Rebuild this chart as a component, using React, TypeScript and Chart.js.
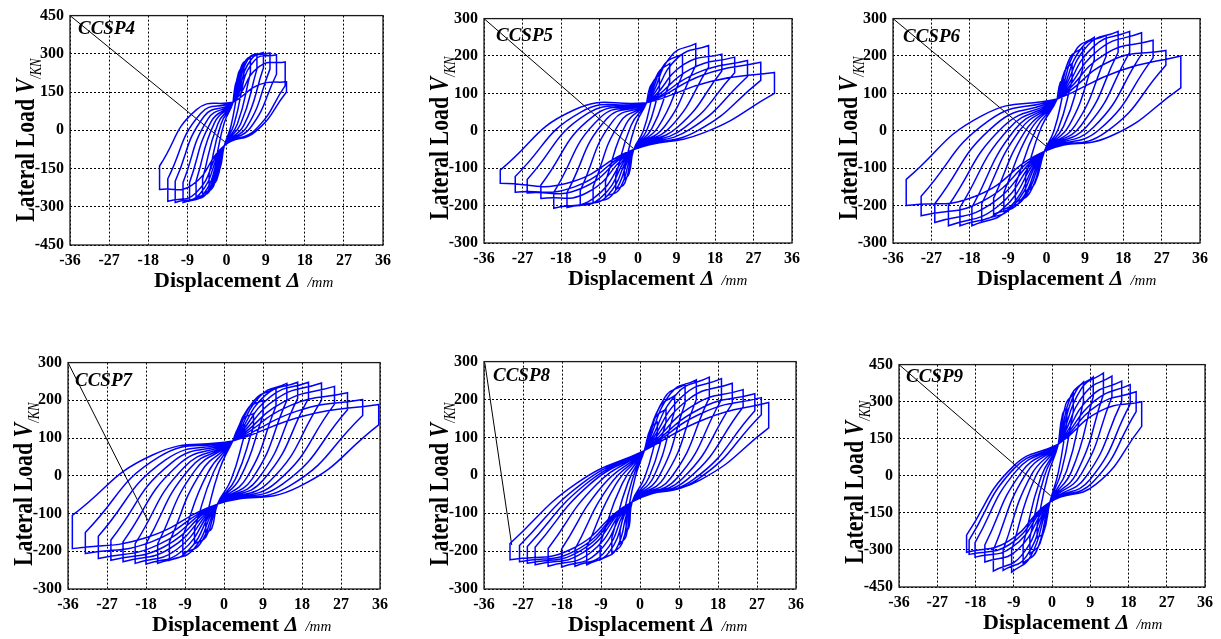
import React, { useEffect, useRef } from "react";
import { Chart, registerables } from "chart.js";
Chart.register(...registerables);

const SERIF = '"Liberation Serif", "Times New Roman", Times, serif';

// ---------- CCSP4 ----------
const CCSP4_pinch = [1.5, 110, -0.5, -60];
const CCSP4_dPos = [2.5, 4, 5.5, 7, 8.5, 10, 11.5, 13.5, 13.8];
const CCSP4_vPos = [200, 255, 285, 300, 305, 303, 296, 268, 190];
const CCSP4_uPos = [150, 200, 225, 240, 245, 240, 220, 175, 150];
const CCSP4_mUpPos = [175, 225, 255, 270, 280, 280, 275, 250, 180];
const CCSP4_mLoPos = [15, 25, 25, 25, 20, 15, 10, 0, -5];
const CCSP4_dNeg = [-2.5, -4, -5.5, -7, -8.5, -10, -11.8, -13.5, -15.4];
const CCSP4_vNeg = [-170, -225, -250, -265, -278, -283, -283, -278, -232];
const CCSP4_uNeg = [-120, -170, -190, -200, -205, -205, -200, -190, -140];
const CCSP4_mLoNeg = [-150, -195, -220, -235, -245, -250, -250, -245, -215];
const CCSP4_mUpNeg = [30, 25, 25, 30, 35, 45, 55, 65, 80];
const CCSP4_leader = [-36, 450, -0.4, -45];

// ---------- CCSP5 ----------
const CCSP5_pinch = [2, 75, -1, -50];
const CCSP5_dPos = [3.5, 5, 7.4, 10.4, 13.5, 16.5, 19.6, 22.6, 25.6, 28.7, 31.9];
const CCSP5_vPos = [130, 150, 180, 205, 233, 228, 205, 197, 188, 183, 156];
const CCSP5_uPos = [100, 110, 130, 150, 175, 170, 160, 155, 145, 135, 100];
const CCSP5_mUpPos = [115, 130, 155, 178, 200, 195, 178, 165, 155, 150, 132];
const CCSP5_mLoPos = [0, 0, 5, 10, 12, 12, 10, 8, 5, 0, -5];
const CCSP5_dNeg = [-3.2, -5.2, -7.6, -10.5, -13.5, -16.6, -19.7, -22.7, -25.9, -28.7, -32.2];
const CCSP5_vNeg = [-130, -157, -176, -194, -200, -205, -207, -181, -166, -164, -140];
const CCSP5_uNeg = [-100, -120, -135, -150, -160, -165, -165, -145, -130, -122, -105];
const CCSP5_mLoNeg = [-115, -140, -155, -168, -175, -180, -180, -165, -155, -150, -140];
const CCSP5_mUpNeg = [15, 15, 18, 22, 28, 32, 35, 40, 45, 50, 55];
const CCSP5_leader = [-36, 300, -1.1, -47];

// ---------- CCSP6 ----------
const CCSP6_pinch = [2.5, 85, -0.5, -55];
const CCSP6_dPos = [4, 6, 8.5, 11.2, 14, 16.8, 19.5, 22.3, 25, 28, 31.5];
const CCSP6_vPos = [135, 180, 222, 250, 255, 266, 266, 262, 242, 215, 200];
const CCSP6_uPos = [105, 135, 165, 190, 200, 210, 210, 205, 195, 175, 115];
const CCSP6_mUpPos = [130, 160, 195, 215, 222, 228, 225, 218, 205, 188, 160];
const CCSP6_mLoPos = [0, 5, 12, 15, 15, 15, 12, 8, 2, -5, -12];
const CCSP6_dNeg = [-4.9, -7.3, -10, -12.4, -15.2, -17.5, -20.3, -23, -26.2, -29.4, -32.9];
const CCSP6_vNeg = [-166, -192, -210, -223, -240, -254, -254, -254, -245, -227, -200];
const CCSP6_uNeg = [-120, -145, -165, -180, -195, -205, -205, -200, -195, -175, -130];
const CCSP6_mLoNeg = [-140, -165, -180, -192, -202, -210, -210, -205, -198, -188, -175];
const CCSP6_mUpNeg = [10, 5, 2, 0, 0, 2, 5, 10, 18, 28, 40];
const CCSP6_leader = [-36, 300, 0, -42];

// ---------- CCSP7 ----------
const CCSP7_pinch = [2, 92, -1.5, -75];
const CCSP7_dPos = [4.8, 6.8, 9, 12, 14.5, 17, 19.5, 22.5, 25.5, 28.5, 32, 35.7];
const CCSP7_vPos = [136, 165, 200, 232, 245, 248, 248, 246, 237, 220, 202, 189];
const CCSP7_uPos = [110, 130, 160, 185, 200, 205, 205, 200, 190, 175, 160, 135];
const CCSP7_mUpPos = [128, 150, 178, 200, 210, 213, 210, 205, 196, 186, 172, 160];
const CCSP7_mLoPos = [-10, -8, -5, -5, -8, -10, -12, -15, -18, -22, -26, -30];
const CCSP7_dNeg = [-4.2, -6.8, -9.5, -12.6, -15.3, -18, -20.5, -23.3, -26.1, -29, -32, -35];
const CCSP7_vNeg = [-150, -180, -206, -224, -232, -234, -232, -228, -224, -219, -206, -193];
const CCSP7_uNeg = [-115, -140, -160, -175, -180, -180, -180, -175, -170, -160, -150, -105];
const CCSP7_mLoNeg = [-140, -162, -180, -195, -200, -200, -196, -192, -188, -183, -175, -165];
const CCSP7_mUpNeg = [15, 10, 8, 10, 15, 18, 22, 28, 35, 42, 50, 55];
const CCSP7_leader = [-36, 300, -17.6, -118];

// ---------- CCSP8 ----------
const CCSP8_pinch = [1, 65, -1.8, -70];
const CCSP8_dPos = [4, 6, 8, 10.4, 13, 16, 18.8, 21.3, 23.8, 26.5, 28, 29.7];
const CCSP8_vPos = [140, 175, 210, 240, 252, 259, 255, 243, 226, 215, 205, 192];
const CCSP8_uPos = [110, 140, 170, 190, 200, 205, 200, 190, 180, 170, 160, 125];
const CCSP8_mUpPos = [125, 152, 180, 205, 215, 215, 210, 200, 185, 175, 165, 150];
const CCSP8_mLoPos = [-5, -5, -5, -5, -6, -7, -8, -9, -10, -11, -12, -12];
const CCSP8_dNeg = [-3.2, -4.6, -6.5, -9.2, -12.3, -15, -18.1, -21.2, -24.2, -26, -27.8, -30];
const CCSP8_vNeg = [-150, -180, -206, -223, -236, -240, -242, -240, -236, -232, -228, -223];
const CCSP8_uNeg = [-120, -145, -165, -180, -190, -195, -195, -193, -190, -188, -185, -180];
const CCSP8_mLoNeg = [-135, -160, -180, -195, -202, -206, -206, -205, -203, -200, -198, -195];
const CCSP8_mUpNeg = [-5, -12, -18, -22, -25, -26, -26, -25, -24, -23, -22, -20];
const CCSP8_leader = [-35.8, 296, -29.6, -184];

// ---------- CCSP9 ----------
const CCSP9_pinch = [1.5, 128, -0.5, -107];
const CCSP9_dPos = [3.5, 5, 7.4, 9.7, 12.1, 14.1, 16.4, 18.4, 19.8, 21.1];
const CCSP9_vPos = [275, 330, 380, 400, 416, 403, 383, 369, 340, 300];
const CCSP9_uPos = [220, 260, 300, 320, 330, 320, 300, 290, 260, 200];
const CCSP9_mUpPos = [250, 290, 325, 342, 350, 335, 318, 302, 285, 262];
const CCSP9_mLoPos = [15, 20, 20, 18, 12, 5, -5, -15, -25, -35];
const CCSP9_dNeg = [-3.5, -5.2, -6.8, -9.5, -11.5, -13.8, -15.8, -18.1, -19.5, -20.1];
const CCSP9_vNeg = [-250, -316, -353, -390, -383, -386, -349, -329, -318, -309];
const CCSP9_uNeg = [-200, -250, -280, -300, -300, -300, -280, -270, -260, -240];
const CCSP9_mLoNeg = [-230, -275, -305, -325, -325, -322, -300, -288, -278, -265];
const CCSP9_mUpNeg = [0, -5, -8, -8, 0, 8, 15, 22, 28, 35];
const CCSP9_leader = [-36, 450, -0.3, -81];

const X_MIN = -36;
const X_MAX = 36;
const X_STEP = 9;

type Spec = {
  name: string;
  yMax: number;
  pinch: number[];
  dPos: number[]; vPos: number[]; uPos: number[]; mUpPos: number[]; mLoPos: number[];
  dNeg: number[]; vNeg: number[]; uNeg: number[]; mLoNeg: number[]; mUpNeg: number[];
  leader: number[];
};

const SPECS: Spec[] = [
  { name: "CCSP4", yMax: 450, pinch: CCSP4_pinch, dPos: CCSP4_dPos, vPos: CCSP4_vPos, uPos: CCSP4_uPos, mUpPos: CCSP4_mUpPos, mLoPos: CCSP4_mLoPos, dNeg: CCSP4_dNeg, vNeg: CCSP4_vNeg, uNeg: CCSP4_uNeg, mLoNeg: CCSP4_mLoNeg, mUpNeg: CCSP4_mUpNeg, leader: CCSP4_leader },
  { name: "CCSP5", yMax: 300, pinch: CCSP5_pinch, dPos: CCSP5_dPos, vPos: CCSP5_vPos, uPos: CCSP5_uPos, mUpPos: CCSP5_mUpPos, mLoPos: CCSP5_mLoPos, dNeg: CCSP5_dNeg, vNeg: CCSP5_vNeg, uNeg: CCSP5_uNeg, mLoNeg: CCSP5_mLoNeg, mUpNeg: CCSP5_mUpNeg, leader: CCSP5_leader },
  { name: "CCSP6", yMax: 300, pinch: CCSP6_pinch, dPos: CCSP6_dPos, vPos: CCSP6_vPos, uPos: CCSP6_uPos, mUpPos: CCSP6_mUpPos, mLoPos: CCSP6_mLoPos, dNeg: CCSP6_dNeg, vNeg: CCSP6_vNeg, uNeg: CCSP6_uNeg, mLoNeg: CCSP6_mLoNeg, mUpNeg: CCSP6_mUpNeg, leader: CCSP6_leader },
  { name: "CCSP7", yMax: 300, pinch: CCSP7_pinch, dPos: CCSP7_dPos, vPos: CCSP7_vPos, uPos: CCSP7_uPos, mUpPos: CCSP7_mUpPos, mLoPos: CCSP7_mLoPos, dNeg: CCSP7_dNeg, vNeg: CCSP7_vNeg, uNeg: CCSP7_uNeg, mLoNeg: CCSP7_mLoNeg, mUpNeg: CCSP7_mUpNeg, leader: CCSP7_leader },
  { name: "CCSP8", yMax: 300, pinch: CCSP8_pinch, dPos: CCSP8_dPos, vPos: CCSP8_vPos, uPos: CCSP8_uPos, mUpPos: CCSP8_mUpPos, mLoPos: CCSP8_mLoPos, dNeg: CCSP8_dNeg, vNeg: CCSP8_vNeg, uNeg: CCSP8_uNeg, mLoNeg: CCSP8_mLoNeg, mUpNeg: CCSP8_mUpNeg, leader: CCSP8_leader },
  { name: "CCSP9", yMax: 450, pinch: CCSP9_pinch, dPos: CCSP9_dPos, vPos: CCSP9_vPos, uPos: CCSP9_uPos, mUpPos: CCSP9_mUpPos, mLoPos: CCSP9_mLoPos, dNeg: CCSP9_dNeg, vNeg: CCSP9_vNeg, uNeg: CCSP9_uNeg, mLoNeg: CCSP9_mLoNeg, mUpNeg: CCSP9_mUpNeg, leader: CCSP9_leader },
];

// plot-area boxes on the page (layout only)
const BOXES = [
  { L: 70, T: 14, R: 383, B: 245, lx: 8, ly: 18 },
  { L: 484, T: 17, R: 792, B: 243, lx: 12, ly: 22 },
  { L: 893, T: 17, R: 1200, B: 243, lx: 10, ly: 23 },
  { L: 68, T: 361, R: 380, B: 589, lx: 7, ly: 23 },
  { L: 484, T: 360, R: 796, B: 589, lx: 9, ly: 19 },
  { L: 899, T: 363, R: 1205, B: 587, lx: 7, ly: 17 },
];

const PAD_L = 70, PAD_T = 14, PAD_R = 14, PAD_B = 50;

function buildPath(s: Spec) {
  const [xu, yu, xl, yl] = s.pinch;
  const pts: { x: number; y: number }[] = [{ x: xu, y: yu }];
  for (let i = 0; i < s.dPos.length; i++) {
    pts.push({ x: (xu + s.dPos[i]) / 2, y: s.mUpPos[i] });
    pts.push({ x: s.dPos[i], y: s.vPos[i] });
    pts.push({ x: s.dPos[i], y: s.vPos[i] });
    pts.push({ x: s.dPos[i], y: s.uPos[i] });
    pts.push({ x: s.dPos[i], y: s.uPos[i] });
    pts.push({ x: (s.dPos[i] + xl) / 2, y: s.mLoPos[i] });
    pts.push({ x: xl, y: yl });
    pts.push({ x: (xl + s.dNeg[i]) / 2, y: s.mLoNeg[i] });
    pts.push({ x: s.dNeg[i], y: s.vNeg[i] });
    pts.push({ x: s.dNeg[i], y: s.vNeg[i] });
    pts.push({ x: s.dNeg[i], y: s.uNeg[i] });
    pts.push({ x: s.dNeg[i], y: s.uNeg[i] });
    pts.push({ x: (s.dNeg[i] + xu) / 2, y: s.mUpNeg[i] });
    pts.push({ x: xu, y: yu });
  }
  return pts;
}

function Panel({ spec, box }: { spec: Spec; box: typeof BOXES[number] }) {
  const ref = useRef<HTMLCanvasElement | null>(null);
  const w = box.R - box.L + PAD_L + PAD_R;
  const h = box.B - box.T + PAD_T + PAD_B;
  useEffect(() => {
    if (!ref.current) return;
    const decor = {
      id: "decor",
      afterDraw(chart: any) {
        const { ctx, chartArea: a } = chart;
        ctx.save();
        ctx.strokeStyle = "#1a1a1a";
        ctx.lineWidth = 1.3;
        ctx.strokeRect(a.left, a.top, a.right - a.left, a.bottom - a.top);
        ctx.fillStyle = "#000";
        ctx.textAlign = "left";
        ctx.textBaseline = "alphabetic";
        // label
        ctx.font = `italic bold 19px ${SERIF}`;
        ctx.fillText(spec.name, a.left + box.lx, a.top + box.ly);
        // x title
        let x = a.left + 84;
        const y = a.bottom + 42;
        ctx.font = `bold 22px ${SERIF}`;
        ctx.fillText("Displacement ", x, y);
        x += ctx.measureText("Displacement ").width;
        ctx.font = `italic bold 22px ${SERIF}`;
        ctx.fillText("\u0394", x, y);
        x += ctx.measureText("\u0394").width + 7;
        ctx.font = `italic 15px ${SERIF}`;
        ctx.fillText("/mm", x, y);
        // y title (tall, condensed lettering)
        ctx.translate(a.left - 36, a.bottom - 23);
        ctx.rotate(-Math.PI / 2);
        ctx.scale(0.78, 1);
        let t = 0;
        ctx.font = `bold 28px ${SERIF}`;
        ctx.fillText("Lateral Load ", t, 0);
        t += ctx.measureText("Lateral Load ").width;
        ctx.font = `italic bold 28px ${SERIF}`;
        ctx.fillText("V", t, 0);
        t += ctx.measureText("V").width;
        ctx.font = `italic 16px ${SERIF}`;
        ctx.fillText("/KN", t, 7);
        ctx.restore();
      },
    };
    const chart = new Chart(ref.current, {
      type: "line",
      data: {
        datasets: [
          {
            data: buildPath(spec),
            borderColor: "#0000ff",
            borderWidth: 1.5,
            pointRadius: 0,
            tension: 0.5,
            fill: false,
          },
          {
            data: [
              { x: spec.leader[0], y: spec.leader[1] },
              { x: spec.leader[2], y: spec.leader[3] },
            ],
            borderColor: "#000",
            borderWidth: 1,
            pointRadius: 0,
            tension: 0,
            fill: false,
          },
        ],
      },
      options: {
        responsive: false,
        animation: false,
        events: [],
        layout: { padding: { left: 0, top: PAD_T, right: PAD_R, bottom: 0 } },
        plugins: { legend: { display: false }, tooltip: { enabled: false }, title: { display: false } },
        scales: {
          x: {
            type: "linear",
            min: X_MIN,
            max: X_MAX,
            afterFit(scale: any) { scale.height = PAD_B; },
            ticks: {
              stepSize: X_STEP,
              autoSkip: false,
              maxRotation: 0,
              padding: 6,
              color: "#000",
              font: { family: SERIF, size: 16, weight: "bold" },
            },
            grid: { color: "#000", lineWidth: 1, drawTicks: false },
            border: { display: false, dash: [2, 2] },
          },
          y: {
            type: "linear",
            min: -spec.yMax,
            max: spec.yMax,
            afterFit(scale: any) { scale.width = PAD_L; },
            ticks: {
              stepSize: spec.yMax / 3,
              autoSkip: false,
              padding: 6,
              color: "#000",
              font: { family: SERIF, size: 16, weight: "bold" },
            },
            grid: { color: "#000", lineWidth: 1, drawTicks: false },
            border: { display: false, dash: [2, 2] },
          },
        },
      },
      plugins: [decor],
    } as any);
    return () => chart.destroy();
  }, []);
  return (
    <div style={{ position: "absolute", left: box.L - PAD_L, top: box.T - PAD_T, width: w, height: h }}>
      <canvas ref={ref} width={w} height={h} style={{ width: w, height: h, display: "block" }} />
    </div>
  );
}

export default function App() {
  return (
    <div style={{ position: "absolute", left: 0, top: 0, width: 1221, height: 639, background: "#fff" }}>
      {SPECS.map((s, i) => (
        <Panel key={s.name} spec={s} box={BOXES[i]} />
      ))}
    </div>
  );
}
